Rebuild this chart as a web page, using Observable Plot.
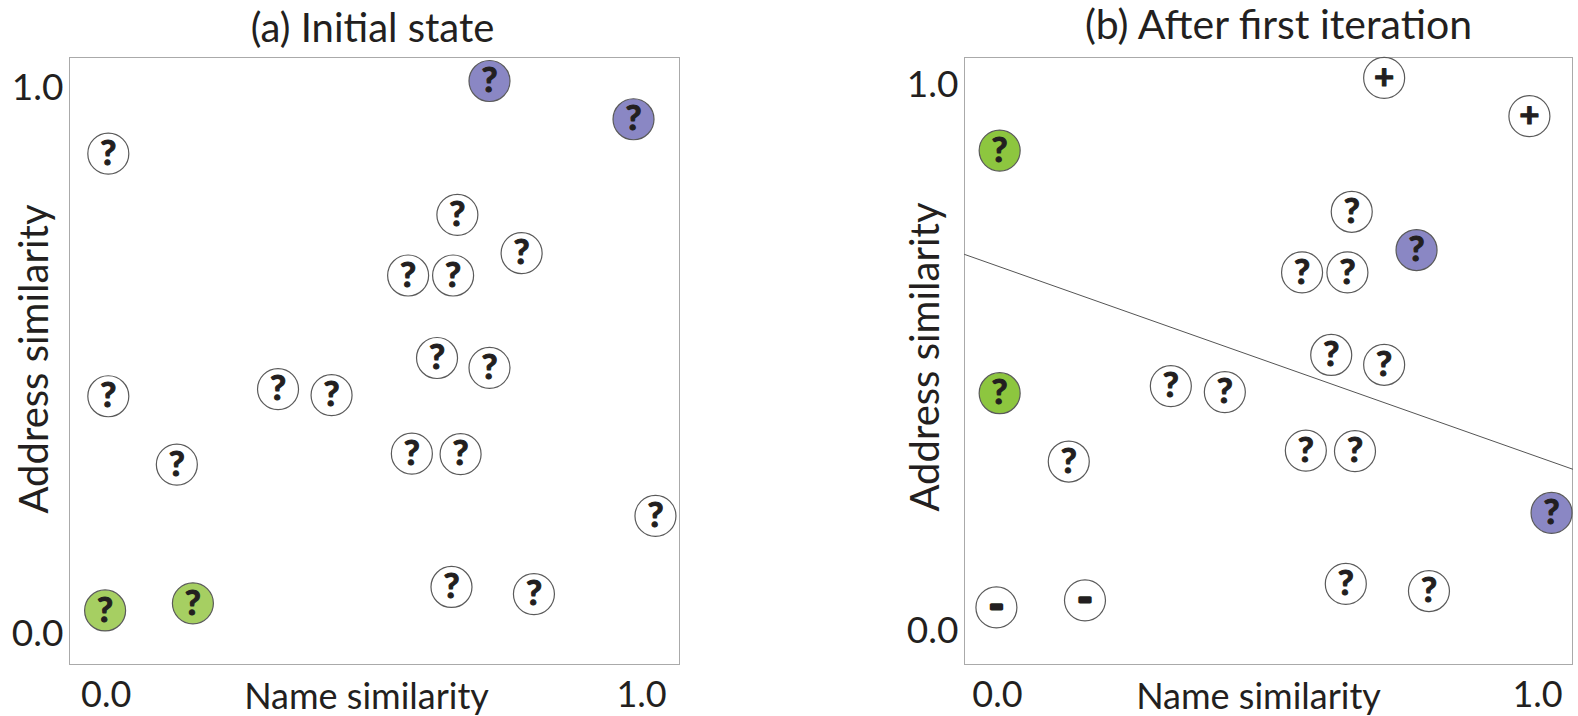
<!DOCTYPE html>
<html><head><meta charset="utf-8">
<script src="https://cdn.jsdelivr.net/npm/d3@7"></script>
<script src="https://cdn.jsdelivr.net/npm/@observablehq/plot@0.6"></script>
<style>
html,body{margin:0;padding:0;background:#fff;}
#chart{position:relative;width:1578px;height:716px;overflow:hidden;background:#fff;}
#chart svg{position:absolute;top:0;}
</style></head><body><div id="chart"></div>
<script>
// Name similarity (x) and address similarity (y) of each record pair
const nameSim = [0.716, 0.985, 0.004, 0.656, 0.776, 0.564, 0.648, 0.618, 0.716, 0.004,
                 0.321, 0.421, 0.132, 0.571, 0.662, 1.026, 0.645, 0.799, -0.002, 0.162];
const addrSim = [1.013, 0.943, 0.880, 0.768, 0.698, 0.657, 0.657, 0.506, 0.488, 0.436,
                 0.449, 0.438, 0.311, 0.331, 0.330, 0.217, 0.087, 0.074, 0.044, 0.057];
// states: qpos = queried (purple ?), qneg = queried (green ?), unl = unlabeled ?, pos = +, neg = -
const stateA = ["qpos","qpos","unl","unl","unl","unl","unl","unl","unl","unl",
                "unl","unl","unl","unl","unl","unl","unl","unl","qneg","qneg"];
const stateB = ["pos","pos","qneg","unl","qpos","unl","unl","unl","unl","qneg",
                "unl","unl","unl","unl","unl","qpos","unl","unl","neg","neg"];
const stateNames = ["qpos","qneg","unl","pos","neg"];
const stateSymbols = ["?","?","?","+","-"];
const colorsA = ["#8a87c4","#a6cf62","#ffffff","#ffffff","#ffffff"];
const colorsB = ["#8a87c4","#8dc63f","#ffffff","#ffffff","#ffffff"];
const titles = ["(a) Initial state", "(b) After first iteration"];
const xLabel = "Name similarity";
const yLabel = "Address similarity";
const tickValues = [0, 1];
// decision boundary after first iteration
const boundaryX = [-0.061, 1.065];
const boundaryY = [0.690, 0.297];

const FONT = "Lato";
const INK = "#231f20";

function panel({states, colors, title, left, width, marginLeft, marginRight, xDomain, yDomain,
                titleDx, titleDy, titleSize, xLabelDx, yLabelDx, yLabelDy, line}) {
  const pts = nameSim.map((x, i) => ({x, y: addrSim[i], s: states[i]}));
  const sym = d => stateSymbols[stateNames.indexOf(d.s)];
  const marks = [
    Plot.frame({stroke: "#aaaaaa", strokeWidth: 1}),
    Plot.axisX(tickValues, {tickSize: 0, tickPadding: 17, tickFormat: d3.format(".1f"),
      fontSize: 36, fontFamily: FONT, fill: INK, label: null}),
    Plot.axisY(tickValues, {tickSize: 0, tickPadding: 6, tickFormat: d3.format(".1f"),
      fontSize: 37, fontFamily: FONT, fill: INK, label: null}),
    Plot.text([xLabel], {frameAnchor: "middle", textAnchor: "middle", lineAnchor: "middle",
      dy: 336, dx: xLabelDx, fontSize: 36, fontFamily: FONT, fill: INK}),
    Plot.text([yLabel], {frameAnchor: "middle", textAnchor: "middle", lineAnchor: "middle",
      dx: yLabelDx, dy: yLabelDy, rotate: -90, fontSize: 40, fontFamily: FONT, fill: INK}),
    Plot.text([title], {frameAnchor: "middle", textAnchor: "middle", lineAnchor: "middle",
      dy: titleDy, dx: titleDx, fontSize: titleSize, fontFamily: FONT, fill: INK})
  ];
  if (line) {
    marks.push(Plot.line(boundaryX.map((x, i) => ({x, y: boundaryY[i]})),
      {x: "x", y: "y", stroke: "#555555", strokeWidth: 1}));
  }
  marks.push(
    Plot.dot(pts, {x: "x", y: "y", r: 20.5, fill: "s", stroke: "#5a5a5a", strokeWidth: 1.2}),
    Plot.text(pts.filter(d => d.s !== "neg"), {x: "x", y: "y", text: sym, fontSize: 35,
      fontWeight: "bold", fontFamily: FONT, fill: INK, stroke: INK, strokeWidth: 1.1}),
    Plot.text(pts.filter(d => d.s === "neg"), {x: "x", y: "y", text: sym, fontSize: 40,
      fontWeight: "bold", fontFamily: FONT, fill: INK, stroke: INK, strokeWidth: 3, dy: -1})
  );
  const svg = Plot.plot({
    width, height: 716,
    marginLeft, marginRight, marginTop: 57, marginBottom: 52,
    x: {domain: xDomain, axis: null},
    y: {domain: yDomain, axis: null},
    color: {domain: stateNames, range: colors},
    style: {fontFamily: FONT, color: INK, background: "transparent", overflow: "visible"},
    marks
  });
  svg.style.left = left + "px";
  return svg;
}

const chart = document.getElementById("chart");
chart.append(panel({
  states: stateA, colors: colorsA, title: titles[0], left: 0, width: 800,
  marginLeft: 69, marginRight: 121,
  xDomain: [-0.0685, 1.0709], yDomain: [-0.0549, 1.056],
  titleDx: -2, titleDy: -332, titleSize: 40, xLabelDx: -8, yLabelDx: -339, yLabelDy: -2, line: false
}));
chart.append(panel({
  states: stateB, colors: colorsB, title: titles[1], left: 800, width: 778,
  marginLeft: 164, marginRight: 6,
  xDomain: [-0.0611, 1.0648], yDomain: [-0.0604, 1.0503],
  titleDx: 10, titleDy: -335, titleSize: 41, xLabelDx: -10, yLabelDx: -342, yLabelDy: -4, line: true
}));
</script></body></html>
